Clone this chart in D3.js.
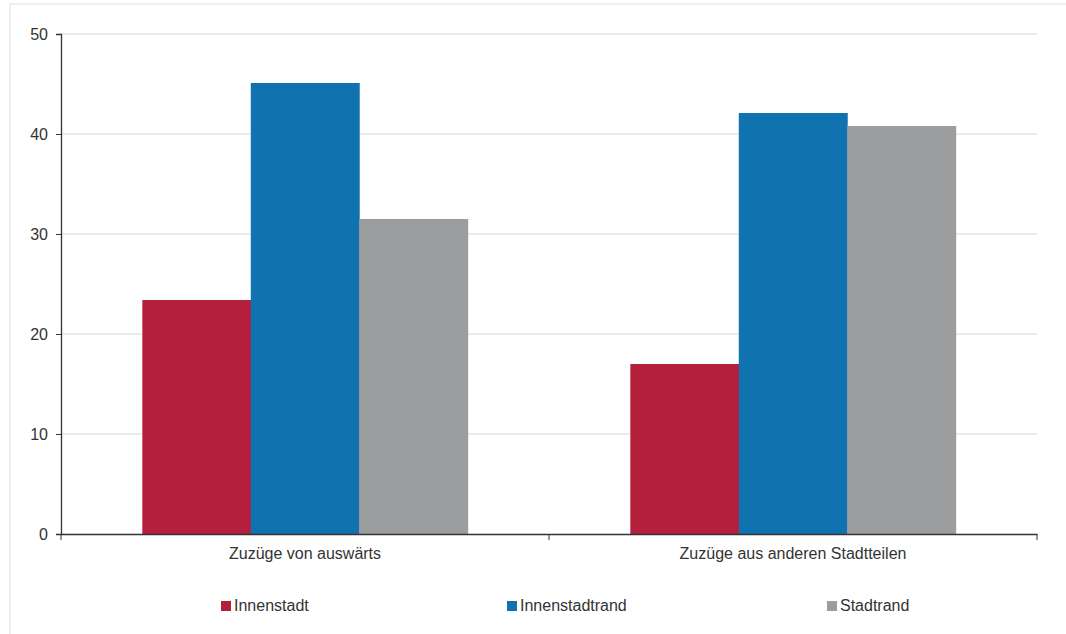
<!DOCTYPE html>
<html><head><meta charset="utf-8">
<script src="https://cdn.jsdelivr.net/npm/d3@7"></script>
<style>
body{margin:0;background:#fff;}
text{font-family:"Liberation Sans",Arial,sans-serif;fill:#333;}
</style></head>
<body>
<svg id="chart" width="1066" height="634"></svg>
<script>
const categories = ["Zuzüge von auswärts", "Zuzüge aus anderen Stadtteilen"];
const seriesNames = ["Innenstadt", "Innenstadtrand", "Stadtrand"];
const innenstadt = [23.4, 17.0];
const innenstadtrand = [45.1, 42.1];
const stadtrand = [31.5, 40.8];
const yTicks = [0, 10, 20, 30, 40, 50];
const colors = ["#B41F3B", "#1172B0", "#9C9D9F"];

const seriesValues = [innenstadt, innenstadtrand, stadtrand];
const data = categories.map((c, i) => ({cat: c, vals: seriesNames.map((s, j) => ({name: s, value: seriesValues[j][i], idx: j}))}));

const svg = d3.select("#chart");
const m = {left: 61, right: 29, top: 34, bottom: 100};
const W = 1066, H = 634;
const iw = W - m.left - m.right, ih = H - m.top - m.bottom;

svg.append("rect").attr("x", 10).attr("y", 4).attr("width", 1070).attr("height", 700)
  .attr("fill", "none").attr("stroke", "#eeeeee").attr("stroke-width", 2);

const g = svg.append("g").attr("transform", `translate(${m.left},${m.top})`);
const x0 = d3.scaleBand().domain(categories).range([0, iw]).paddingInner(0).paddingOuter(0);
const x1 = d3.scaleBand().domain(seriesNames).range([0, x0.bandwidth()]).paddingInner(0).paddingOuter(0.75);
const y = d3.scaleLinear().domain([0, 50]).range([ih, 0]);

g.append("g").selectAll("line").data(yTicks.filter(d => d > 0)).join("line")
  .attr("x1", 0).attr("x2", iw).attr("y1", d => y(d)).attr("y2", d => y(d))
  .attr("stroke", "#ebebeb").attr("stroke-width", 2);

g.append("g").selectAll("g").data(data).join("g")
  .attr("transform", d => `translate(${x0(d.cat)},0)`)
  .selectAll("rect").data(d => d.vals).join("rect")
  .attr("x", d => x1(d.name)).attr("width", x1.bandwidth() + 0.5)
  .attr("y", d => y(d.value)).attr("height", d => ih - y(d.value))
  .attr("fill", d => colors[d.idx]);

const ya = g.append("g").call(d3.axisLeft(y).tickValues(yTicks).tickSize(5).tickPadding(8));
ya.select(".domain").attr("stroke", "#333").attr("stroke-width", 1.3);
ya.selectAll(".tick line").attr("stroke", "#333");
ya.selectAll("text").attr("font-size", 16).style("fill", "#333");

const xa = g.append("g").attr("transform", `translate(0,${ih})`)
  .call(d3.axisBottom(x0).tickSize(0).tickPadding(14));
xa.select(".domain").attr("stroke", "#333").attr("stroke-width", 1.3);
xa.selectAll("text").attr("font-size", 16).style("fill", "#333");
// boundary ticks
const bounds = [0, x0.bandwidth(), iw];
g.append("g").selectAll("line").data(bounds).join("line")
  .attr("x1", d => d).attr("x2", d => d).attr("y1", ih).attr("y2", ih + 6)
  .attr("stroke", "#333").attr("stroke-width", 1);

const legX = [221, 507, 827];
const leg = svg.append("g").selectAll("g").data(seriesNames).join("g")
  .attr("transform", (d, i) => `translate(${legX[i]},601)`);
leg.append("rect").attr("width", 10).attr("height", 10).attr("fill", (d, i) => colors[i]);
leg.append("text").attr("x", 13).attr("y", 10).attr("font-size", 16).text(d => d);
</script>
</body></html>
